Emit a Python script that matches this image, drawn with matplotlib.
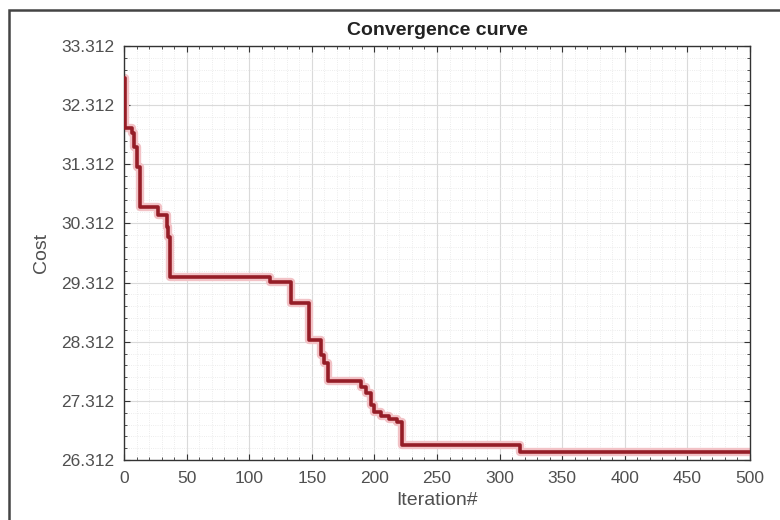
import matplotlib
matplotlib.use("Agg")
import matplotlib.pyplot as plt
from matplotlib.ticker import AutoMinorLocator, FixedLocator
from matplotlib.patches import Rectangle

plt.rcParams['font.family'] = ['Liberation Sans', 'DejaVu Sans']

# Change points of the convergence curve (iteration, best cost)
iterations = [0, 1, 6, 8, 10, 13, 27, 34, 35, 37, 117, 133, 148, 157, 160, 163,
              189, 193, 197, 200, 205, 212, 218, 222, 316, 500]
costs = [32.77, 31.92, 31.84, 31.60, 31.27, 30.59, 30.45, 30.25, 30.08, 29.41,
         29.32, 28.97, 28.34, 28.09, 27.95, 27.65, 27.55, 27.45, 27.25, 27.12,
         27.05, 27.00, 26.95, 26.56, 26.44, 26.44]

y_ticks = [26.312, 27.312, 28.312, 29.312, 30.312, 31.312, 32.312, 33.312]
y_tick_labels = ["26.312", "27.312", "28.312", "29.312", "30.312", "31.312", "32.312", "33.312"]
x_ticks = [0, 50, 100, 150, 200, 250, 300, 350, 400, 450, 500]

fig = plt.figure(figsize=(7.8, 5.2), dpi=100)
fig.patch.set_facecolor('white')
# outer frame (visible on left and top)
fig.patches.append(Rectangle((9/780, -0.05), 1.2, 1.05 - 10/520,
                             transform=fig.transFigure, fill=False,
                             edgecolor='#444444', linewidth=1.8))

ax = fig.add_axes([124/780, 1 - 460/520, (750 - 124)/780, (460 - 46)/520])

# glow underlay + main line
ax.plot(iterations, costs, drawstyle='steps-post', color='#f2c2c6', linewidth=6,
        solid_capstyle='butt', zorder=2)
ax.plot(iterations, costs, drawstyle='steps-post', color='#951d27', linewidth=2.6,
        solid_capstyle='butt', zorder=3)

ax.set_xlim(0, 500)
ax.set_ylim(26.312, 33.312)
ax.xaxis.set_major_locator(FixedLocator(x_ticks))
ax.set_yticks(y_ticks)
ax.set_yticklabels(y_tick_labels)
ax.xaxis.set_minor_locator(AutoMinorLocator(5))
ax.yaxis.set_minor_locator(AutoMinorLocator(5))

ax.grid(which='major', color='#dadada', linewidth=0.8, linestyle='-')
ax.grid(which='minor', color='#e6e6e6', linewidth=0.6, linestyle=':')
ax.set_axisbelow(True)

for s in ax.spines.values():
    s.set_color('#333333')
    s.set_linewidth(1.0)

ax.tick_params(which='both', direction='in', top=True, right=True, colors='#333333',
               labelcolor='#505050', labelsize=12.5)
ax.tick_params(which='major', length=4)
ax.tick_params(which='minor', length=2)
ax.tick_params(axis='x', pad=8)
ax.tick_params(axis='y', pad=7)

ax.set_title("Convergence curve", fontsize=14, fontweight='bold', color='#222222', pad=8)
ax.set_xlabel("Iteration#", fontsize=14, color='#505050', labelpad=4)
ax.set_ylabel("Cost", fontsize=14, color='#505050', labelpad=8)

fig.savefig("out.png", dpi=100, facecolor='white')
